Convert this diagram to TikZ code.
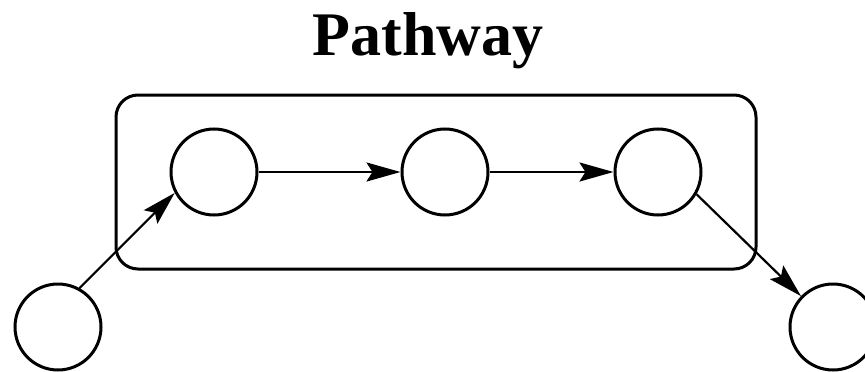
\documentclass[tikz,border=0pt]{standalone}
\usepackage{fontspec}
\setmainfont{Liberation Serif}
\usetikzlibrary{arrows.meta}
\begin{document}
\begin{tikzpicture}[x=1pt,y=-1pt,
  line width=3pt,
  state/.style={draw, circle, minimum size=86pt, inner sep=0pt},
  group/.style={draw, rounded corners=22pt, minimum width=640pt, minimum height=174pt, inner sep=0pt},
  flow/.style={-{Stealth[length=34pt,width=19pt,inset=6pt]}, line width=2.6pt},
  slant/.style={flow, line width=2.2pt}]
  \useasboundingbox (0,0) rectangle (865,372);

  % title
  \node[anchor=base, inner sep=0pt, font=\fontsize{62}{62}\selectfont\bfseries] (title) at (428,55) {Pathway};

  % grouping frame
  \node[group] (frame) at (436,182) {};

  % states
  \node[state] (c1) at (214,172) {};
  \node[state] (c2) at (445,172) {};
  \node[state] (c3) at (658,172) {};
  \node[state] (in) at (58,327) {};
  \node[state] (out) at (833,327) {};

  % transitions
  \draw[slant] (in.61) -- (c1.208);
  \draw[flow] (c1) -- (c2);
  \draw[flow] (c2) -- (c3);
  \draw[slant] (c3.-30) -- (out.136);
\end{tikzpicture}
\end{document}
